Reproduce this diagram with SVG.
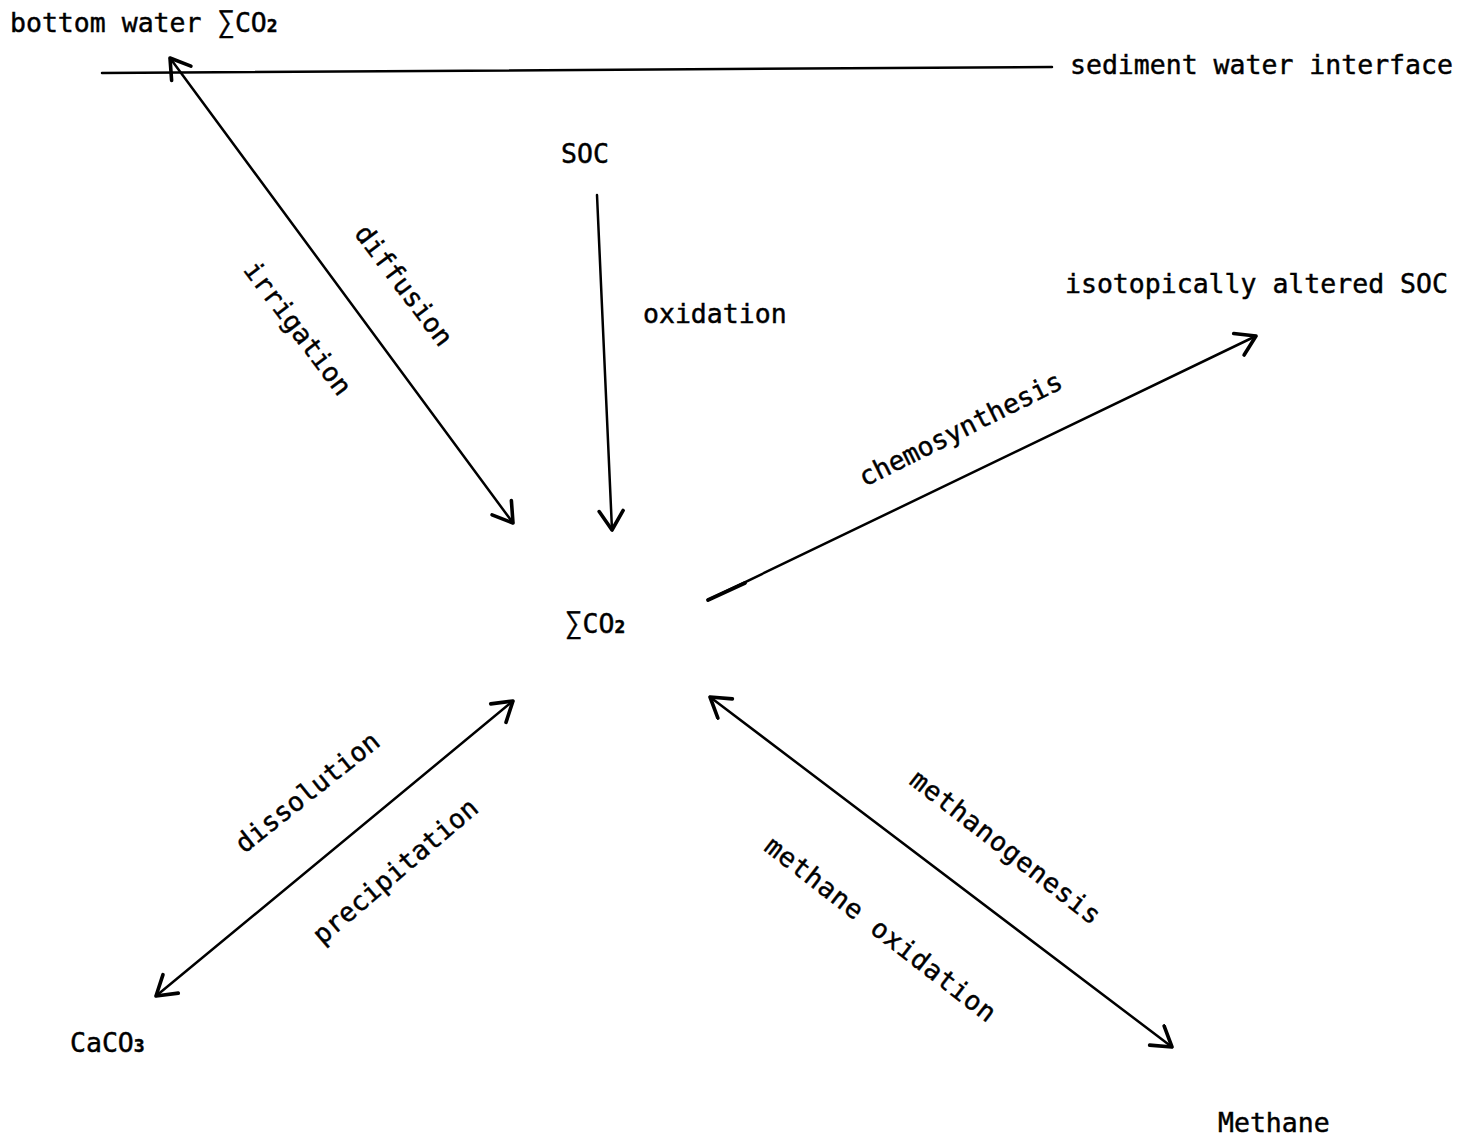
<svg xmlns="http://www.w3.org/2000/svg" width="1475" height="1141" viewBox="0 0 1475 1141">
<style>
text{font-family:"DejaVu Sans Mono","Liberation Mono",monospace;font-size:26.5px;fill:#000;stroke:#000;stroke-width:0.45}
.sub{font-size:18px;font-weight:bold}
.sig{font-size:29px}
.c{stroke:#000;stroke-width:2.5;fill:none;stroke-linecap:round}
.r{text-anchor:middle}
</style>
<defs>
<marker id="ah" markerUnits="userSpaceOnUse" viewBox="-24 -14 28 28" markerWidth="28" markerHeight="28" refX="0" refY="0" orient="auto-start-reverse">
<path d="M-19,-12 L0,0 L-19,12" fill="none" stroke="#000" stroke-width="3.6" stroke-linecap="round" stroke-linejoin="round"/>
</marker>
</defs>
<rect width="1475" height="1141" fill="#fff"/>
<g id="bottom-water"><text x="10" y="32">bottom water <tspan class="sig">∑</tspan>CO<tspan class="sub">2</tspan></text></g>
<g id="interface"><line class="c" x1="102" y1="73" x2="1052" y2="67"/><text x="1070" y="74">sediment water interface</text></g>
<g id="soc"><text x="561" y="163">SOC</text></g>
<g id="sigma-co2"><text x="565" y="633"><tspan class="sig">∑</tspan>CO<tspan class="sub">2</tspan></text></g>
<g id="iso-soc"><text x="1065" y="293">isotopically altered SOC</text></g>
<g id="caco3"><text x="70" y="1052">CaCO<tspan class="sub">3</tspan></text></g>
<g id="methane"><text x="1218" y="1132">Methane</text></g>
<g id="connectors">
<line class="c" x1="170" y1="58" x2="513" y2="523" marker-start="url(#ah)" marker-end="url(#ah)"/>
<line class="c" x1="597" y1="195" x2="612" y2="530" marker-end="url(#ah)"/>
<line class="c" x1="708" y1="600" x2="1256" y2="336" marker-end="url(#ah)"/>
<line x1="708" y1="600" x2="745" y2="583" stroke="#000" stroke-width="3.8" stroke-linecap="round"/>
<line class="c" x1="513" y1="701" x2="156" y2="996" marker-start="url(#ah)" marker-end="url(#ah)"/>
<line class="c" x1="710" y1="697" x2="1172" y2="1047" marker-start="url(#ah)" marker-end="url(#ah)"/>
</g>
<g id="labels">
<text x="643" y="323">oxidation</text>
<text class="r" transform="translate(403,286) rotate(53)" x="0" y="8">diffusion</text>
<text class="r" transform="translate(297,329) rotate(53)" x="0" y="8">irrigation</text>
<text class="r" transform="translate(961,430) rotate(-26.5)" x="0" y="8">chemosynthesis</text>
<text class="r" transform="translate(308,793) rotate(-38.5)" x="0" y="8">dissolution</text>
<text class="r" transform="translate(396,872) rotate(-40.5)" x="0" y="8">precipitation</text>
<text class="r" transform="translate(1005,848) rotate(37.8)" x="0" y="8" textLength="233" lengthAdjust="spacing">methanogenesis</text>
<text class="r" transform="translate(880,930) rotate(37.7)" x="0" y="8" textLength="284" lengthAdjust="spacing">methane oxidation</text>
</g>
</svg>
